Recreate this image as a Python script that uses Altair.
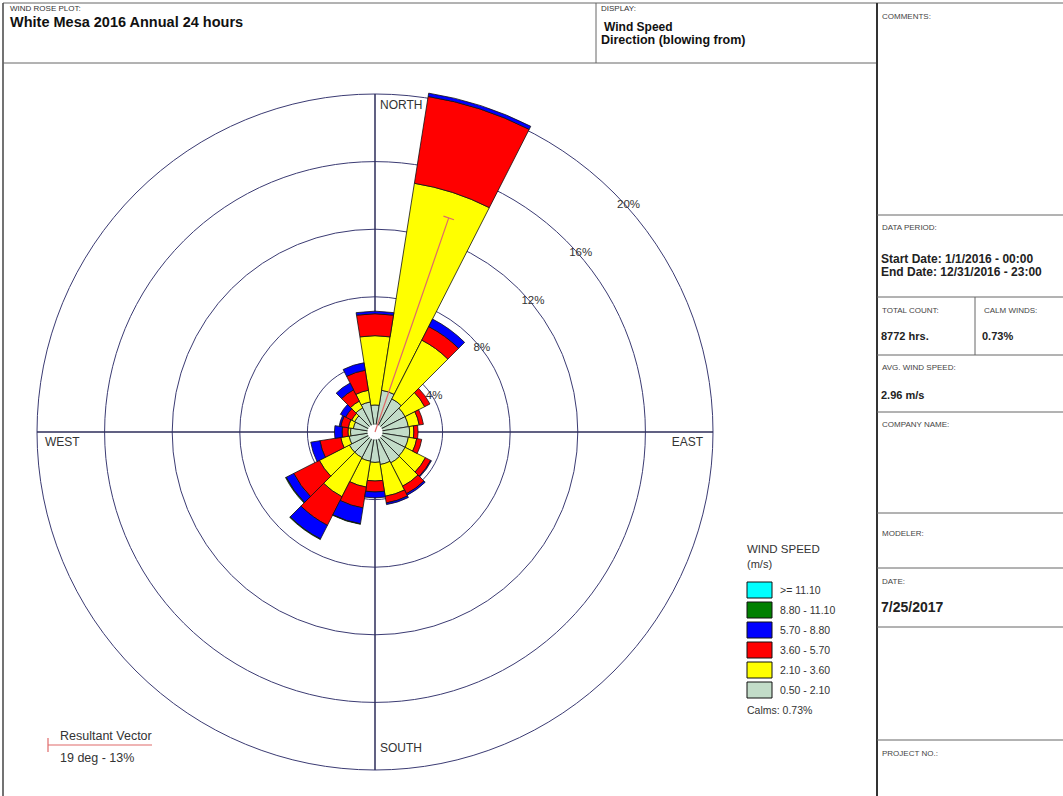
import math
import numpy as np
import pandas as pd
import altair as alt

# ---------------- data ----------------
DIRECTIONS = [0, 18, 36, 54, 72, 90, 108, 126, 144, 162,
              180, 198, 216, 234, 252, 270, 288, 306, 324, 342]
SPEED_CLASSES = ["0.50 - 2.10", "2.10 - 3.60", "3.60 - 5.70",
                 "5.70 - 8.80", "8.80 - 11.10", ">= 11.10"]
SPEED_COLORS = ["#c2dcc8", "#ffff00", "#ff0000", "#0000ff", "#008000", "#00ffff"]

# frequency (%) per direction for each speed class
FREQ_05_21 = [1.6, 2.5, 2.2, 2.0, 2.0, 2.05, 2.0, 2.0, 2.05, 1.95,
              1.8, 1.75, 1.7, 1.7, 1.55, 1.45, 1.3, 1.35, 1.6, 1.8]
FREQ_21_36 = [4.1, 12.4, 3.9, 1.3, 0.65, 0.25, 0.5, 1.35, 1.55, 1.9,
              1.1, 1.55, 2.6, 2.0, 0.5, 0.15, 0.3, 0.2, 0.45, 0.7]
FREQ_36_57 = [1.3, 5.2, 0.9, 0.35, 0.25, 0.25, 0.3, 0.35, 0.5, 0.4,
              0.65, 1.25, 1.9, 1.7, 1.25, 0.35, 0.45, 0.4, 0.75, 1.2]
FREQ_57_88 = [0.15, 0.2, 0.5, 0.0, 0.0, 0.0, 0.0, 0.05, 0.1, 0.1,
              0.35, 0.95, 0.9, 0.5, 0.55, 0.45, 0.1, 0.35, 0.45, 0.45]
FREQ_88_111 = [0.0, 0.0, 0.0, 0.0, 0.0, 0.0, 0.0, 0.0, 0.0, 0.0,
               0.0, 0.03, 0.04, 0.04, 0.0, 0.0, 0.0, 0.0, 0.0, 0.0]
FREQ_GE_111 = [0.0] * 20

CALMS_PCT = 0.73
RESULTANT_DEG = 19
RESULTANT_PCT = 13.4
RING_PCTS = [4, 8, 12, 16, 20]
CARDINALS = ["NORTH", "EAST", "SOUTH", "WEST"]

# ---------------- geometry / style ----------------
W, H = 1063, 796
CX, CY = 375, 432          # rose centre (pixels)
K = 16.9                   # pixels per percent
HOLE_PCT = 0.45
FONT = "Liberation Sans"
SECTOR = 360 / len(DIRECTIONS)

xs = alt.Scale(domain=[-CX / K, (W - CX) / K], range=[0, W], nice=False, zero=False)
ys = alt.Scale(domain=[-(H - CY) / K, CY / K], range=[H, 0], nice=False, zero=False)
rs = alt.Scale(type="linear", domain=[0, 20], range=[0, 20 * K], nice=False, zero=True)
ts = alt.Scale(domain=[0, 360], range=[0, 2 * math.pi], nice=False, zero=False)

# ---------------- build tables ----------------
rows = []
cum = np.zeros(len(DIRECTIONS))
for cls, freqs in zip(SPEED_CLASSES, [FREQ_05_21, FREQ_21_36, FREQ_36_57,
                                      FREQ_57_88, FREQ_88_111, FREQ_GE_111]):
    for i, d in enumerate(DIRECTIONS):
        f = freqs[i]
        if f > 0:
            rows.append(dict(t0=d - SECTOR / 2, t1=d + SECTOR / 2,
                             r0=cum[i], r1=cum[i] + f, cls=cls, cx=0, cy=0))
        cum[i] += f
bars = pd.DataFrame(rows)

rings = pd.DataFrame({"pct": RING_PCTS, "cx": 0, "cy": 0})
rings["lx"] = rings["pct"] * math.sin(math.radians(45))
rings["ly"] = rings["pct"] * math.cos(math.radians(45))
rings["label"] = [f"{p}%" for p in RING_PCTS]

rmax = max(RING_PCTS)
axes_df = pd.DataFrame({"x0": [-rmax, 0], "y0": [0, -rmax], "x1": [rmax, 0], "y1": [0, rmax]})

a = math.radians(RESULTANT_DEG)
ex, ey = RESULTANT_PCT * math.sin(a), RESULTANT_PCT * math.cos(a)
tick = 0.33
vec = pd.DataFrame({
    "x0": [0, ex - tick * math.cos(a)],
    "y0": [0, ey + tick * math.sin(a)],
    "x1": [ex, ex + tick * math.cos(a)],
    "y1": [ey, ey - tick * math.sin(a)],
})

card = pd.DataFrame({"label": CARDINALS,
                     "x": [0, rmax, 0, -rmax], "y": [rmax, 0, -rmax, 0]})

ONE = pd.DataFrame({"k": [0]})
VEC_COLOR = "#e06a6a"

X = lambda f: alt.X(f, scale=xs, axis=None)
Y = lambda f: alt.Y(f, scale=ys, axis=None)

layers = []

# ---------- frame ----------
def seg(x1, y1, x2, y2, color="#666", w=1.0):
    return alt.Chart(ONE).mark_rule(color=color, strokeWidth=w).encode(
        x=alt.value(x1), y=alt.value(y1), x2=alt.value(x2), y2=alt.value(y2))

layers += [
    seg(3, 3, W, 3),
    seg(3, 3, 3, H, "#444", 1.5),
    seg(3, 63, 877, 63),
    seg(596, 3, 596, 63),
    seg(877, 3, 877, H, "#333", 2),
]
for yy in [215, 297, 355, 412, 513, 568, 627, 740]:
    layers.append(seg(877, yy, W, yy))
layers.append(seg(975, 297, 975, 355))

def txt(s, x, y, size=8, weight="normal", color="#333", font=FONT, align="left"):
    return alt.Chart(ONE).mark_text(text=s, align=align, baseline="alphabetic",
                                    fontSize=size, fontWeight=weight, color=color,
                                    font=font).encode(x=alt.value(x), y=alt.value(y))

layers += [
    txt("WIND ROSE PLOT:", 10, 11, 8),
    txt("White Mesa 2016 Annual 24 hours", 10, 27, 14.5, "bold", "#111"),
    txt("DISPLAY:", 601, 11, 8),
    txt("Wind Speed", 604, 31, 12, "bold", "#111"),
    txt("Direction (blowing from)", 601, 44, 12.5, "bold", "#111"),
    txt("COMMENTS:", 882, 19, 8, color="#444"),
    txt("DATA PERIOD:", 882, 230, 8, color="#444"),
    txt("Start Date: 1/1/2016 - 00:00", 881, 263, 12, "bold", "#222"),
    txt("End Date: 12/31/2016 - 23:00", 881, 276, 12, "bold", "#222"),
    txt("TOTAL COUNT:", 882, 313, 8, color="#444"),
    txt("CALM WINDS:", 984, 313, 8, color="#444"),
    txt("8772 hrs.", 881, 340, 11, "bold", "#222"),
    txt(f"{CALMS_PCT:.2f}%", 982, 340, 11, "bold", "#222"),
    txt("AVG. WIND SPEED:", 882, 370, 8, color="#444"),
    txt("2.96 m/s", 881, 399, 11, "bold", "#222"),
    txt("COMPANY NAME:", 882, 427, 8, color="#444"),
    txt("MODELER:", 882, 536, 8, color="#444"),
    txt("DATE:", 882, 584, 8, color="#444"),
    txt("7/25/2017", 881, 612, 14, "bold", "#222"),
    txt("PROJECT NO.:", 882, 756, 8, color="#444"),
]

# ---------- rose ----------
layers.append(
    alt.Chart(rings).mark_arc(filled=False, stroke="#3b3b73", strokeWidth=1,
                              theta=0, theta2=2 * math.pi).encode(
        x=X("cx:Q"), y=Y("cy:Q"), radius=alt.Radius("pct:Q", scale=rs, stack=None))
)
layers.append(
    alt.Chart(axes_df).mark_rule(color="#2d2d5a", strokeWidth=1.5).encode(
        x=X("x0:Q"), y=Y("y0:Q"), x2="x1:Q", y2="y1:Q")
)
layers.append(
    alt.Chart(bars).mark_arc(stroke="#111", strokeWidth=0.8).encode(
        x=X("cx:Q"), y=Y("cy:Q"),
        theta=alt.Theta("t0:Q", scale=ts, stack=None), theta2="t1:Q",
        radius=alt.Radius("r1:Q", scale=rs, stack=None), radius2="r0:Q",
        color=alt.Color("cls:N", scale=alt.Scale(domain=SPEED_CLASSES, range=SPEED_COLORS),
                        legend=None))
)
layers.append(
    alt.Chart(pd.DataFrame({"cx": [0], "cy": [0], "r": [HOLE_PCT]})).mark_arc(
        fill="white", theta=0, theta2=2 * math.pi).encode(
        x=X("cx:Q"), y=Y("cy:Q"), radius=alt.Radius("r:Q", scale=rs, stack=None))
)
layers.append(
    alt.Chart(vec).mark_rule(color=VEC_COLOR, strokeWidth=1.2).encode(
        x=X("x0:Q"), y=Y("y0:Q"), x2="x1:Q", y2="y1:Q")
)
layers.append(
    alt.Chart(rings).mark_text(align="left", baseline="top", dx=3, dy=6, fontSize=11.5,
                               font=FONT, color="#333").encode(
        x=X("lx:Q"), y=Y("ly:Q"), text="label:N")
)
card_style = {
    "NORTH": dict(align="left", baseline="top", dx=5, dy=6),
    "EAST": dict(align="right", baseline="top", dx=-10, dy=5),
    "SOUTH": dict(align="left", baseline="alphabetic", dx=5, dy=-18),
    "WEST": dict(align="left", baseline="top", dx=8, dy=5),
}
for lab in CARDINALS:
    layers.append(
        alt.Chart(card[card["label"] == lab]).mark_text(
            fontSize=12, font=FONT, color="#333", **card_style[lab]).encode(
            x=X("x:Q"), y=Y("y:Q"), text="label:N")
    )

# ---------- legend ----------
layers += [
    txt("WIND SPEED", 747, 553, 11.5, color="#333"),
    txt("(m/s)", 747, 568, 11, color="#333"),
]
for i, (lab, col) in enumerate(zip(SPEED_CLASSES[::-1], SPEED_COLORS[::-1])):
    y0 = 582 + 20 * i
    layers.append(alt.Chart(ONE).mark_rect(color=col, stroke="#111", strokeWidth=1).encode(
        x=alt.value(747), x2=alt.value(772), y=alt.value(y0), y2=alt.value(y0 + 16)))
    layers.append(txt(lab, 780, y0 + 12, 10.5, color="#333"))
layers.append(txt(f"Calms: {CALMS_PCT:.2f}%", 747, 714, 10.5, color="#333"))

# ---------- resultant vector key ----------
layers += [
    seg(48, 745, 152, 745, VEC_COLOR, 1.2),
    seg(48, 738, 48, 752, VEC_COLOR, 1.2),
    txt("Resultant Vector", 60, 740, 12.5, color="#333"),
    txt(f"{RESULTANT_DEG} deg - 13%", 60, 762, 12.5, color="#333"),
]

chart = alt.layer(*layers).properties(
    width=W, height=H, padding=0,
    autosize=alt.AutoSizeParams(type="none"),
    background="white",
).configure_view(stroke=None)

chart.save("out.html", embed_options={"renderer": "svg", "actions": False})
